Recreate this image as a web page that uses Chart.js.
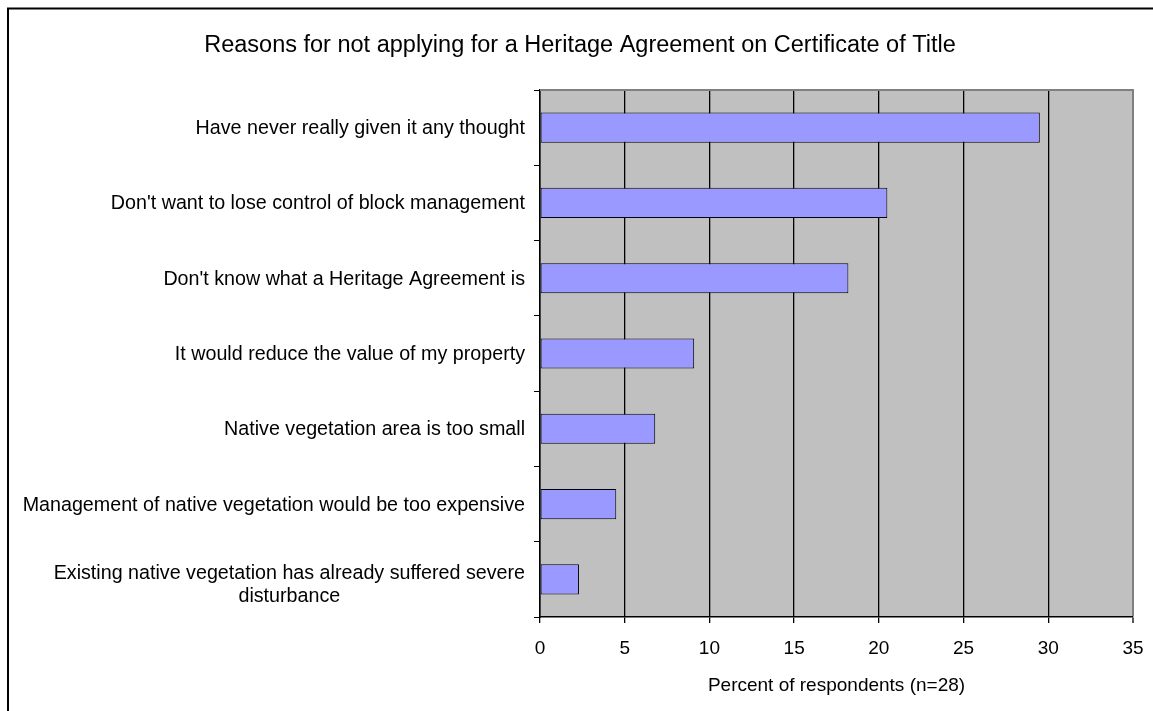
<!DOCTYPE html>
<html><head><meta charset="utf-8">
<script src="https://cdn.jsdelivr.net/npm/chart.js@4"></script>
<style>html,body{margin:0;padding:0;background:#fff}#wrap{width:1153px;height:711px;position:relative}</style>
</head><body><div id="wrap"><canvas id="c" width="1153" height="711"></canvas></div>
<script>
const chartTitle = 'Reasons for not applying for a Heritage Agreement on Certificate of Title';
const categories = [
  'Have never really given it any thought',
  "Don't want to lose control of block management",
  "Don't know what a Heritage Agreement is",
  'It would reduce the value of my property',
  'Native vegetation area is too small',
  'Management of native vegetation would be too expensive',
  ['Existing native vegetation has already suffered severe', 'disturbance']
];
const values = [29.5, 20.5, 18.2, 9.1, 6.8, 4.5, 2.3];
const xAxisTitle = 'Percent of respondents (n=28)';
const xMin = 0, xMax = 35, xStep = 5;

const FONT = '"Liberation Sans", Arial, sans-serif';

const framePlugin = {
  id: 'frame',
  beforeDraw(chart) {
    const {ctx, chartArea: a} = chart;
    ctx.save();
    ctx.fillStyle = '#fff';
    ctx.fillRect(0, 0, chart.width, chart.height);
    ctx.fillStyle = '#C0C0C0';
    ctx.fillRect(a.left, a.top, a.right - a.left, a.bottom - a.top);
    ctx.restore();
  },
  beforeDatasetsDraw(chart) {
    const {ctx, chartArea: a} = chart;
    ctx.save();
    ctx.strokeStyle = '#808080';
    ctx.lineWidth = 2;
    ctx.beginPath();
    ctx.moveTo(a.left, a.top);
    ctx.lineTo(a.right + 1, a.top);
    ctx.stroke();
    ctx.restore();
  },
  afterDraw(chart) {
    const {ctx} = chart;
    const ys = chart.scales.y;
    ctx.save();
    // chart title
    ctx.font = '23.5px ' + FONT;
    ctx.fillStyle = '#000';
    ctx.textAlign = 'center';
    ctx.textBaseline = 'middle';
    ctx.fillText(chartTitle, 580, 46);
    // category labels (right-aligned block, lines centred inside it)
    ctx.font = '19.7px ' + FONT;
    const lh = 23;
    categories.forEach((lab, i) => {
      const y = ys.getPixelForValue(i);
      const lines = Array.isArray(lab) ? lab : [lab];
      const maxW = Math.max(...lines.map(l => ctx.measureText(l).width));
      const xr = ys.right - 15;
      const y0 = y - (lines.length - 1) * lh / 2 + (lines.length > 1 ? 6 : 1);
      lines.forEach((l, j) => ctx.fillText(l, xr - maxW / 2, y0 + j * lh));
    });
    // outer frame
    ctx.strokeStyle = '#000';
    ctx.lineWidth = 2;
    ctx.strokeRect(8, 8.5, 1300, 900);
    ctx.restore();
  }
};

new Chart(document.getElementById('c'), {
  type: 'bar',
  data: {
    labels: categories,
    datasets: [{
      data: values,
      backgroundColor: '#9999FF',
      borderColor: '#000',
      borderWidth: 1,
      borderSkipped: false,
      barPercentage: 0.4,
      categoryPercentage: 1
    }]
  },
  options: {
    indexAxis: 'y',
    responsive: false,
    animation: false,
    devicePixelRatio: 1,
    layout: {padding: {left: 0, right: 20, top: 90, bottom: 0}},
    plugins: {
      legend: {display: false},
      tooltip: {enabled: false},
      title: {display: false}
    },
    scales: {
      x: {
        position: 'bottom',
        min: xMin, max: xMax,
        afterFit(s) { s.height = 94; s.paddingLeft = 0; s.paddingRight = 0; },
        ticks: {stepSize: xStep, color: '#000', font: {family: FONT, size: 19}, padding: 14},
        grid: {
          color: c => (c.tick && c.tick.value === xMax) ? '#808080' : '#000',
          lineWidth: c => (c.tick && c.tick.value === xMax) ? 2 : 1.3,
          tickColor: '#000', tickWidth: 1.3, tickLength: 6,
          drawOnChartArea: true, drawTicks: true
        },
        border: {color: '#000', width: 1.5},
        title: {display: true, text: xAxisTitle, color: '#000',
          font: {family: FONT, size: 19}, padding: {top: 0, bottom: 14}}
      },
      y: {
        afterFit(s) { s.width = 540; },
        ticks: {display: false},
        grid: {drawOnChartArea: false, drawTicks: true, tickLength: 6, color: '#000', offset: true},
        border: {color: '#000', width: 1.5}
      }
    }
  },
  plugins: [framePlugin]
});
</script></body></html>
